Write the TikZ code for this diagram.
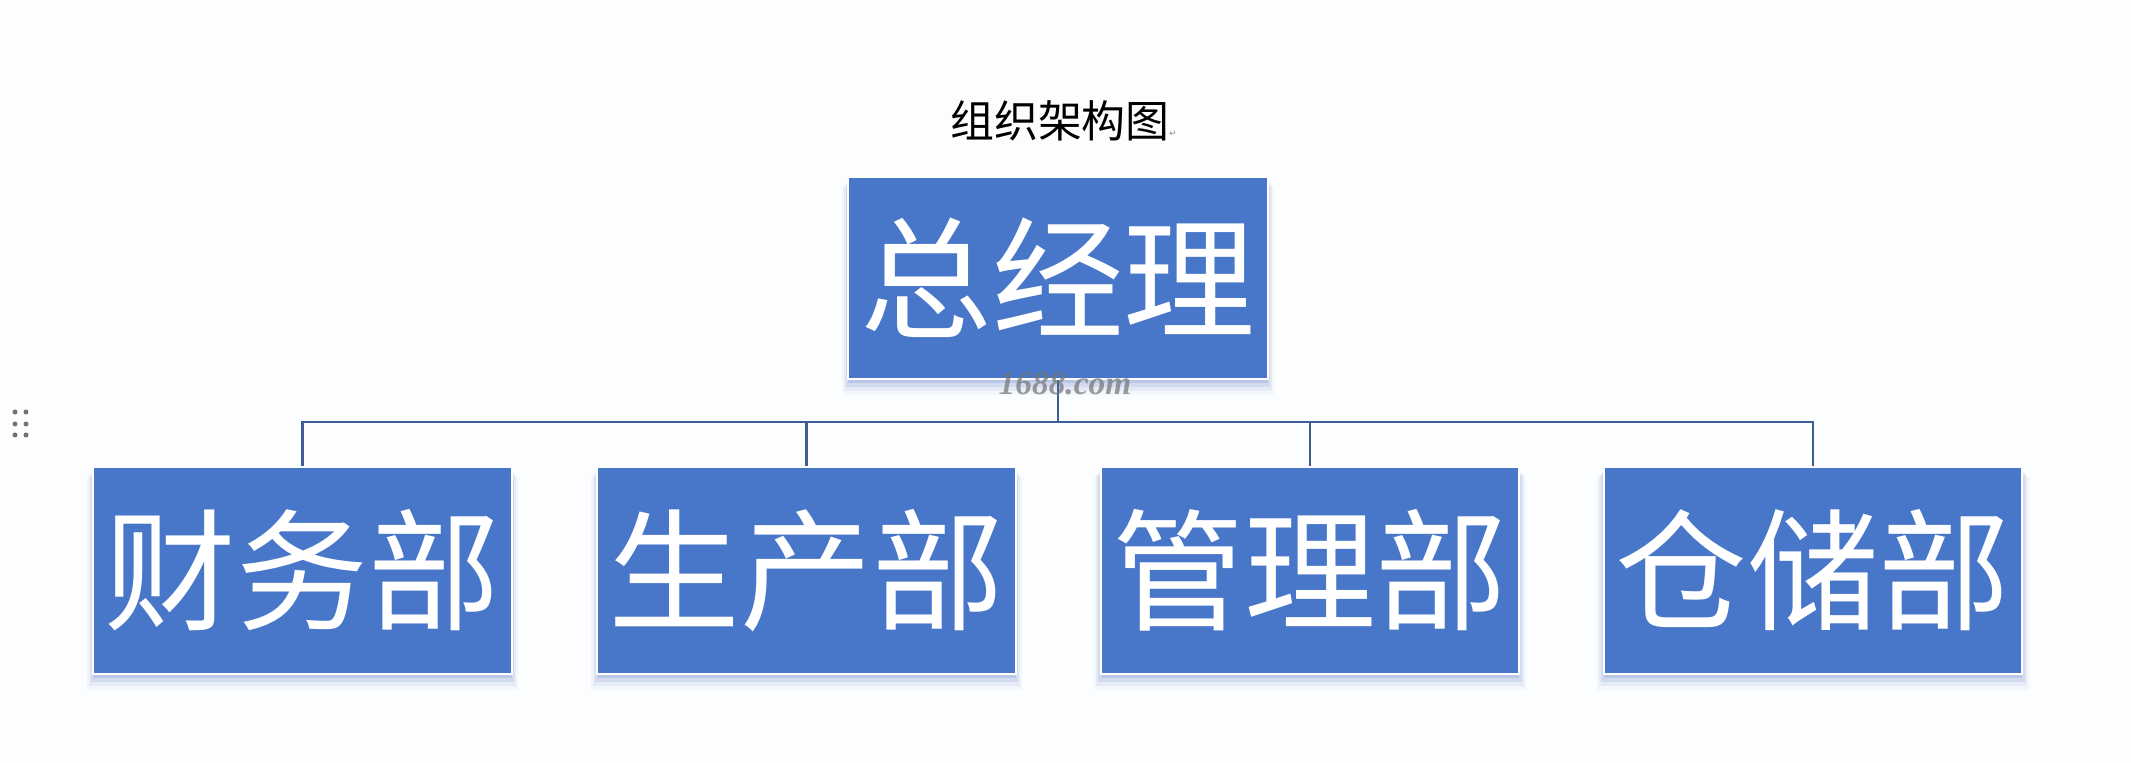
\documentclass[tikz,border=0pt]{standalone}
\usepackage{fontspec}
\setmainfont{Liberation Serif}
\newfontfamily\cjk{Noto Sans CJK SC}
\newfontfamily\wmfont{Liberation Serif}
\newfontfamily\symfont{DejaVu Sans}
\usetikzlibrary{shadows}
\definecolor{boxblue}{RGB}{72,118,201}
\definecolor{connblue}{RGB}{62,94,152}
\definecolor{bgc}{RGB}{252,253,254}
\definecolor{shadowc}{RGB}{110,135,205}
\tikzset{
  orgbox/.style={draw=white, line width=0.04cm, fill=boxblue, text=white,
    inner sep=0pt, font=\cjk\fontsize{75}{80}\selectfont,
    drop shadow={shadow xshift=0cm, shadow yshift=-0.26cm, shadow scale=1.03, fill=shadowc, opacity=0.06},
    drop shadow={shadow xshift=0cm, shadow yshift=-0.2cm, shadow scale=1.02, fill=shadowc, opacity=0.10},
    drop shadow={shadow xshift=0cm, shadow yshift=-0.14cm, shadow scale=1.01, fill=shadowc, opacity=0.16},
    drop shadow={shadow xshift=0cm, shadow yshift=-0.08cm, shadow scale=1.0, fill=shadowc, opacity=0.22}},
  topbox/.style={orgbox, minimum width=8.4cm, minimum height=4.04cm},
  deptbox/.style={orgbox, minimum width=8.38cm, minimum height=4.14cm},
  conn/.style={draw=connblue, line width=0.055cm},
  dot/.style={fill=black!55, draw=none, circle, inner sep=0pt, minimum size=0.1cm}
}
\begin{document}
\begin{tikzpicture}[x=0.02cm,y=-0.02cm]
\fill[bgc] (0,0) rectangle (2131,763);
\useasboundingbox (0,0) rectangle (2131,763);
% title
\node[font=\cjk\fontsize{25}{28}\selectfont, text=black, inner sep=0pt] (title) at (1060,121) {组织架构图};
\node[font=\symfont\fontsize{5}{6}\selectfont, text=black!45, inner sep=0pt] (pmark) at (1173,134) {↵};
% boxes
\node[topbox] (gm) at (1058,278) {\raisebox{0.18cm}{总经理}};
\node[deptbox] (b1) at (302.5,570.5) {\raisebox{0.05cm}{财务部}};
\node[deptbox] (b2) at (806.5,570.5) {\raisebox{0.05cm}{生产部}};
\node[deptbox] (b3) at (1310,570.5) {\raisebox{0.05cm}{管理部}};
\node[deptbox] (b4) at (1813,570.5) {\raisebox{0.05cm}{仓储部}};
% connectors
\coordinate (bus) at (0,422);
\draw[conn] (gm.south) -- (gm.south |- bus);
\draw[conn] (b1.north) -- (b1.north |- bus) -- (b4.north |- bus) -- (b4.north);
\draw[conn] (b2.north) -- (b2.north |- bus);
\draw[conn] (b3.north) -- (b3.north |- bus);
% watermark
\node[font=\wmfont\bfseries\itshape\fontsize{19}{20}\selectfont, text=black!55, opacity=0.7, inner sep=0pt] (wm) at (1065,384) {1688.com};
% drag handle
\foreach \yy [count=\i] in {412,424,435}{
  \node[dot] (hl\i) at (15,\yy) {};
  \node[dot] (hr\i) at (26,\yy) {};
}
\end{tikzpicture}
\end{document}
